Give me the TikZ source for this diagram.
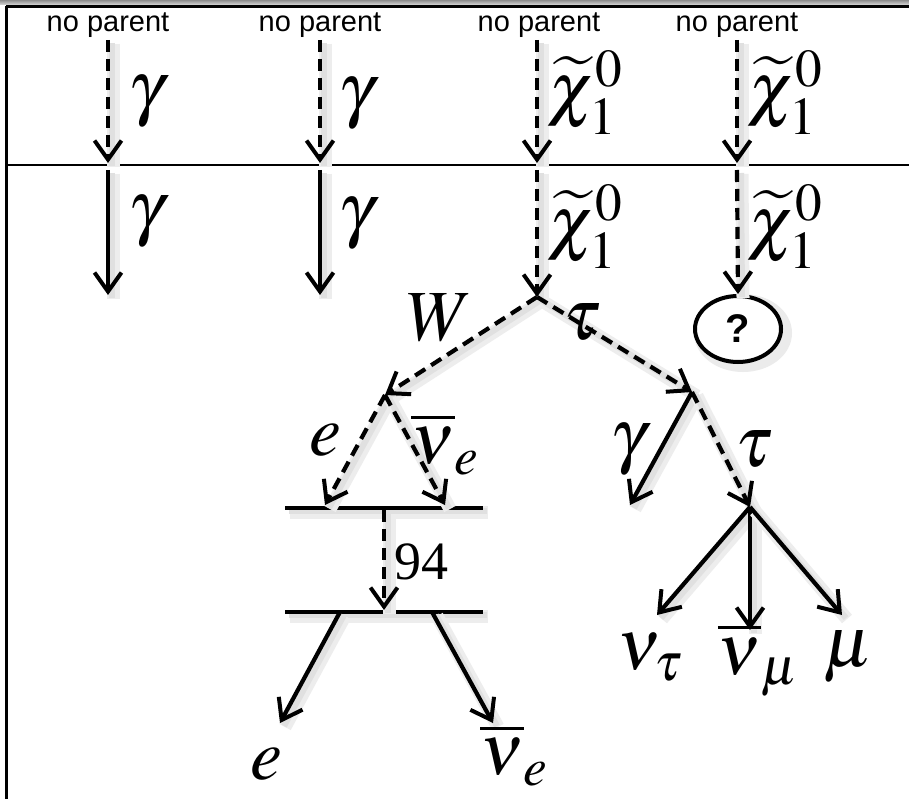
\documentclass[tikz,border=0pt]{standalone}
\usepackage{mathptmx}
\usepackage[no-math]{fontspec}
\setmainfont{Liberation Serif}
\newfontfamily\arial{Liberation Sans}
\usetikzlibrary{arrows.meta,shapes.geometric}
\tikzset{
  tipv/.tip={Straight Barb[length=19pt,width=27pt,line width=4pt]},
  shd/.style={preaction={draw=black!7,line width=13pt,-,transform canvas={shift={(5pt,-4pt)}}},
              preaction={draw=black!12,line width=6pt,-,transform canvas={shift={(4pt,-3pt)}}}},
  ln/.style={shd,line width=4.2pt,-tipv},
  dsh/.style={ln,dash pattern=on 12pt off 7pt},
  np/.style={font=\arial\fontsize{29}{30}\selectfont,inner sep=0pt},
  lab/.style={font=\fontsize{72}{76}\selectfont,inner sep=0pt},
  bar/.style={shd,line width=4.2pt},
}
\begin{document}
\begin{tikzpicture}[x=1pt,y=-1pt]
\useasboundingbox (0,0) rectangle (909,799);
\fill[white] (0,0) rectangle (909,799);
% frame
\shade[top color=black!45,bottom color=black!15] (0,0) rectangle (909,5);
\draw[line width=3.5pt] (6,6.5) -- (912,6.5);
\draw[line width=3pt] (6.5,6) -- (6.5,802);
\draw[line width=2.5pt] (6,165) -- (912,165);
% top labels
\node[np] (n1) at (108,25) {no parent};
\node[np] (n2) at (320,25) {no parent};
\node[np] (n3) at (539,25) {no parent};
\node[np] (n4) at (737,25) {no parent};
% column coordinates
\foreach \i/\x in {1/108,2/320,3/537,4/737}{
  \coordinate (s\i) at (\x,40);
  \coordinate (h\i) at (\x,163);
  \coordinate (t\i) at (\x,170);
}
\coordinate (b1) at (108,295);
\coordinate (b2) at (320,295);
\coordinate (v1) at (537,297);
\node[ellipse,draw,line width=4pt,minimum width=86pt,minimum height=66pt,inner sep=0pt,
  font=\arial\bfseries\fontsize{40}{42}\selectfont,fill=white,
  preaction={draw=black!8,line width=12pt,transform canvas={shift={(5pt,-4pt)}}}]
  (q) at (738,329) {?};
% top arrows
\foreach \i in {1,2,3,4}{ \draw[dsh] (s\i) -- (h\i); }
\draw[ln] (t1) -- (b1);
\draw[ln] (t2) -- (b2);
\draw[dsh] (t3) -- (v1);
\draw[dsh] (t4) -- (q.north);
% labels top
\node[lab] (g1) at (146,102) {$\gamma$};
\node[lab] (g2) at (146,222) {$\gamma$};
\node[lab] (g3) at (356,104) {$\gamma$};
\node[lab] (g4) at (356,224) {$\gamma$};
\node[lab] (c1) at (585,93) {$\widetilde{\chi}_1^0$};
\node[lab] (c2) at (585,227) {$\widetilde{\chi}_1^0$};
\node[lab] (c3) at (785,93) {$\widetilde{\chi}_1^0$};
\node[lab] (c4) at (785,227) {$\widetilde{\chi}_1^0$};
% decay tree
\coordinate (v2) at (385,395);
\coordinate (v3) at (692,392);
\coordinate (v4) at (750,507);
\coordinate (e1) at (325,505);
\coordinate (e2) at (445,505);
\coordinate (bl1) at (285,508);
\coordinate (br1) at (483,508);
\coordinate (bl2) at (285,612);
\coordinate (br2) at (483,612);
\coordinate (m1) at (384,510);
\coordinate (m2) at (384,610);
\coordinate (p1) at (340,612);
\coordinate (p2) at (432,612);
\coordinate (f1) at (280,723);
\coordinate (f2) at (493,723);
\coordinate (gg) at (630,505);
\coordinate (d1) at (657,615);
\coordinate (d2) at (750,630);
\coordinate (d3) at (842,615);
\draw[bar] (bl1) -- (br1);
\draw[bar] (bl2) -- (br2);
\draw[dsh] (v1) -- (v2);
\draw[dsh] (v1) -- (v3);
\draw[dsh] (v2) -- (e1);
\draw[dsh] (v2) -- (e2);
\draw[dsh] (m1) -- (m2);
\draw[ln] (p1) -- (f1);
\draw[ln] (p2) -- (f2);
\draw[ln] (v3) -- (gg);
\draw[dsh] (v3) -- (v4);
\draw[ln] (v4) -- (d1);
\draw[ln] (v4) -- (d2);
\draw[ln] (v4) -- (d3);
% tree labels
\node[lab] (lW) at (440,318) {$W$};
\node[lab] (lt1) at (582,322) {$\tau$};
\node[lab] (le1) at (325,440) {$e$};
\node[lab] (ln1) at (445,444) {$\overline{\nu}_e$};
\node[lab,font=\fontsize{54}{58}\selectfont] (l94) at (421,562) {94};
\node[lab] (lg) at (628,450) {$\gamma$};
\node[lab] (lt2) at (754,449) {$\tau$};
\node[lab] (lnt) at (650,657) {$\nu_\tau$};
\node[lab] (lnm) at (758,660) {$\overline{\nu}_\mu$};
\node[lab] (lmu) at (848,657) {$\mu$};
\node[lab] (le2) at (266,764) {$e$};
\node[lab] (ln2) at (514,755) {$\overline{\nu}_e$};
\end{tikzpicture}
\end{document}
